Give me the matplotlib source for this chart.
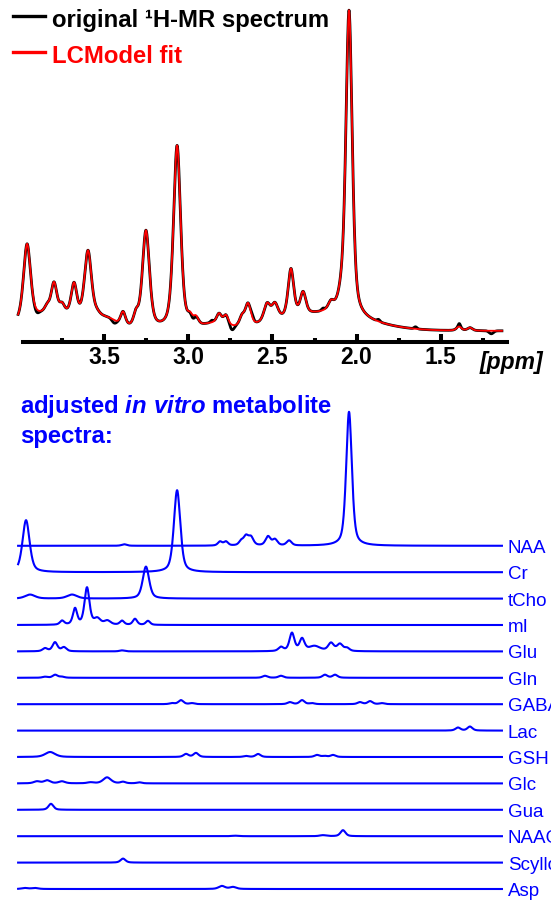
import numpy as np
import matplotlib
matplotlib.use('Agg')
import matplotlib.pyplot as plt
from matplotlib.lines import Line2D
from matplotlib.ticker import FixedLocator

plt.rcParams['font.family'] = ['Liberation Sans', 'DejaVu Sans']
plt.rcParams['mathtext.fontset'] = 'custom'
plt.rcParams['mathtext.it'] = 'Liberation Sans:italic:bold'
plt.rcParams['mathtext.rm'] = 'Liberation Sans:bold'
plt.rcParams['mathtext.bf'] = 'Liberation Sans:bold'

# ---------------- data: peaks as (ppm, amplitude [a.u.], fwhm [ppm]) ----------------
PPM_RANGE = (4.01, 1.137)

# in vivo spectrum / LCModel fit
FIT_OFFSET = 11
FIT_BROAD = [(3.80, 16, 0.40), (2.20, 16, 0.60), (3.48, 8, 0.12), (2.85, 5, 0.15)]
FIT_PEAKS = [
    (3.957, 76, 0.05), (3.838, 6, 0.035), (3.797, 30, 0.04), (3.749, 8, 0.035),
    (3.678, 32, 0.04), (3.595, 70, 0.05), (3.542, 5, 0.05),
    (3.387, 14, 0.035), (3.310, 12, 0.035), (3.251, 98, 0.05), (3.066, 184, 0.05),
    (2.989, 8, 0.035), (2.954, 8, 0.035), (2.817, 10, 0.035), (2.776, 10, 0.035),
    (2.681, 9, 0.035), (2.645, 22, 0.04), (2.532, 18, 0.045), (2.485, 16, 0.045),
    (2.390, 48, 0.04), (2.318, 22, 0.04), (2.152, 8, 0.04), (2.093, 10, 0.045),
    (2.045, 306, 0.045), (1.392, 4, 0.035), (1.327, 3, 0.035),
]
ORIG_RESIDUAL = [
    (3.90, -3, 0.03), (3.44, -3, 0.03), (2.97, -3, 0.03), (2.86, 2, 0.02),
    (2.74, -5, 0.03), (2.62, 3, 0.02), (2.20, 2, 0.02), (1.87, 2, 0.02),
    (1.65, 2, 0.02), (1.39, 3, 0.015), (1.20, -3, 0.03),
]

# metabolite basis spectra
METABOLITES = ['NAA', 'Cr', 'tCho', 'mI', 'Glu', 'Gln', 'GABA', 'Lac',
               'GSH', 'Glc', 'Gua', 'NAAG', 'Scyllo', 'Asp']
NAA = [(2.045, 134, 0.04), (2.811, 4, 0.03), (2.776, 4, 0.03), (2.686, 4, 0.03),
       (2.657, 9, 0.035), (2.627, 8, 0.035), (2.526, 9, 0.035), (2.485, 6, 0.035),
       (2.401, 5, 0.035), (3.38, 1.5, 0.035)]
Cr = [(3.066, 82, 0.045), (3.963, 52, 0.05)]
tCho = [(3.251, 32, 0.045), (3.939, 4, 0.07), (3.690, 4, 0.07)]
mI = [(3.749, 4, 0.03), (3.672, 16, 0.03), (3.601, 37, 0.035), (3.540, 6, 0.045),
      (3.480, 4, 0.045), (3.393, 4, 0.03), (3.316, 6, 0.03), (3.239, 4, 0.03)]
Glu = [(3.850, 3, 0.035), (3.791, 9, 0.035), (3.738, 4, 0.035), (3.393, 1, 0.035),
       (2.449, 4, 0.035), (2.384, 18, 0.035), (2.324, 12, 0.035), (2.250, 5, 0.08),
       (2.152, 8, 0.04), (2.099, 7, 0.04), (2.057, 3, 0.035)]
Gln = [(3.850, 1, 0.035), (3.790, 3, 0.035), (3.750, 1, 0.035), (2.544, 2, 0.035),
       (2.449, 2, 0.035), (2.188, 3, 0.035), (2.128, 3, 0.035)]
GABA = [(3.096, 1, 0.035), (3.043, 4, 0.035), (2.977, 1, 0.035), (2.396, 2, 0.035),
        (2.324, 4, 0.035), (2.265, 1, 0.035), (1.980, 2, 0.035), (1.920, 3, 0.035),
        (1.849, 1, 0.035)]
Lac = [(1.398, 3, 0.035), (1.327, 4, 0.035)]
GSH = [(3.820, 5, 0.07), (3.013, 3, 0.035), (2.954, 4, 0.035), (2.657, 1, 0.035),
       (2.585, 3, 0.035), (2.235, 2, 0.035), (2.190, 1, 0.035), (2.140, 2, 0.035)]
Glc = [(3.898, 2, 0.045), (3.838, 3, 0.045), (3.750, 2, 0.045), (3.580, 1, 0.045),
       (3.482, 6, 0.055), (3.387, 1.5, 0.035), (3.290, 1, 0.035)]
Gua = [(3.815, 6, 0.035)]
NAAG = [(2.081, 6, 0.035), (2.200, 1, 0.045), (2.720, 0.5, 0.05)]
Scyllo = [(3.387, 4, 0.035)]
Asp = [(3.970, 1, 0.045), (3.910, 1, 0.045), (2.800, 3, 0.045), (2.734, 2, 0.045)]
BASIS = {'NAA': NAA, 'Cr': Cr, 'tCho': tCho, 'mI': mI, 'Glu': Glu, 'Gln': Gln,
         'GABA': GABA, 'Lac': Lac, 'GSH': GSH, 'Glc': Glc, 'Gua': Gua,
         'NAAG': NAAG, 'Scyllo': Scyllo, 'Asp': Asp}

MAJOR_TICKS = [3.5, 3.0, 2.5, 2.0, 1.5]
MINOR_TICKS = [3.75, 3.25, 2.75, 2.25, 1.75, 1.25]
TICK_LABELS = ['3.5', '3.0', '2.5', '2.0', '1.5']


def lineshape(ppm, peaks, eta=0.5):
    y = np.zeros_like(ppm)
    for c, a, w in peaks:
        d = (ppm - c) / (w / 2.0)
        y += a * (eta / (1 + d ** 2) + (1 - eta) * np.exp(-np.log(2) * d ** 2))
    return y


# ---------------- layout ----------------
W, H = 551, 901
BLUE = '#0000ff'
fig = plt.figure(figsize=(W / 100, H / 100), dpi=100)


def fx(px):
    return px / W


def fy(py):
    return 1 - py / H


XLIM = (4.0107, 1.1069)
ppm = np.linspace(PPM_RANGE[0], PPM_RANGE[1], 2000)

# top panel
ax = fig.add_axes([fx(18), fy(342), 489 / W, 342 / H])
ax.set_xlim(*XLIM)
ax.set_ylim(0, 342)
fit = FIT_OFFSET + lineshape(ppm, FIT_BROAD, eta=0.0) + lineshape(ppm, FIT_PEAKS)
orig = fit + lineshape(ppm, ORIG_RESIDUAL, eta=0.0)
ax.plot(ppm, orig, color='black', lw=2.0, clip_on=False)
ax.plot(ppm, fit, color='#ff0000', lw=1.3, clip_on=False)
for s in ['top', 'left', 'right']:
    ax.spines[s].set_visible(False)
ax.spines['bottom'].set_linewidth(2.9)
ax.spines['bottom'].set_bounds(3.98, XLIM[1])
ax.set_yticks([])
ax.xaxis.set_major_locator(FixedLocator(MAJOR_TICKS))
ax.xaxis.set_minor_locator(FixedLocator(MINOR_TICKS))
ax.set_xticklabels(TICK_LABELS, fontsize=16.5, fontweight='bold')
ax.tick_params(axis='x', which='major', direction='in', length=6, width=2.9, pad=3)
ax.tick_params(axis='x', which='minor', direction='in', length=3, width=2.9)
ax.patch.set_alpha(0)
fig.text(fx(511), fy(369), '[ppm]', fontsize=16.5, fontweight='bold',
         fontstyle='italic', ha='center', va='baseline')

# legend
fig.add_artist(Line2D([fx(13), fx(45)], [fy(15.5), fy(15.5)], color='black', lw=2.4))
fig.add_artist(Line2D([fx(13), fx(45)], [fy(52), fy(52)], color='#ff0000', lw=2.4))
fig.text(fx(52), fy(27), 'original \u00b9H-MR spectrum', fontsize=17.2, fontweight='bold',
         color='black', va='baseline')
fig.text(fx(52), fy(63), 'LCModel fit', fontsize=17.2, fontweight='bold',
         color='#ff0000', va='baseline')

# bottom panel
bx = fig.add_axes([fx(18), fy(901), 489 / W, (901 - 395) / H])
bx.set_xlim(*XLIM)
bx.set_ylim(-12, 494)
bx.axis('off')
SPACING = 26.4
n = len(METABOLITES)
for i, name in enumerate(METABOLITES):
    off = (n - 1 - i) * SPACING
    bx.plot(ppm, off + lineshape(ppm, BASIS[name]), color=BLUE, lw=1.5, clip_on=False)
    bx.text(1.101, off - 2.5, name, color=BLUE, fontsize=13.5, va='center',
            ha='left', clip_on=False)

fig.text(fx(20), fy(413), r'adjusted $\mathit{in\ vitro}$ metabolite', fontsize=17.2,
         fontweight='bold', color=BLUE, va='baseline')
fig.text(fx(20), fy(443), 'spectra:', fontsize=17.2, fontweight='bold', color=BLUE,
         va='baseline')

fig.savefig('out.png', dpi=100)
